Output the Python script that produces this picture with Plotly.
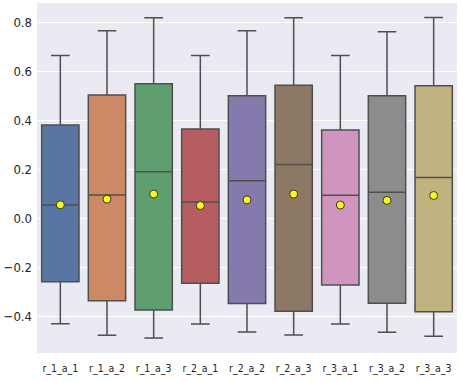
import plotly.graph_objects as go

# --- data ---
labels = ["r_1_a_1", "r_1_a_2", "r_1_a_3", "r_2_a_1", "r_2_a_2", "r_2_a_3",
          "r_3_a_1", "r_3_a_2", "r_3_a_3"]
upper = [0.665, 0.767, 0.820, 0.665, 0.767, 0.820, 0.665, 0.762, 0.821]
q3 = [0.381, 0.504, 0.550, 0.365, 0.501, 0.544, 0.361, 0.501, 0.542]
median = [0.054, 0.095, 0.190, 0.066, 0.153, 0.220, 0.094, 0.106, 0.167]
q1 = [-0.260, -0.337, -0.375, -0.266, -0.349, -0.380, -0.273, -0.348, -0.382]
lower = [-0.431, -0.478, -0.490, -0.432, -0.465, -0.477, -0.432, -0.466, -0.483]
means = [0.055, 0.078, 0.099, 0.052, 0.075, 0.099, 0.054, 0.073, 0.093]

# seaborn "deep", desaturated like boxplot does
colors = ["#5975a4", "#cc8963", "#5f9e6e", "#b55d60", "#857aab",
          "#8d7866", "#d095bf", "#8c8c8c", "#c1b37f"]

fig = go.Figure()

for i, lab in enumerate(labels):
    fig.add_trace(go.Box(
        x=[lab],
        q1=[q1[i]], median=[median[i]], q3=[q3[i]],
        lowerfence=[lower[i]], upperfence=[upper[i]],
        width=0.8,
        fillcolor=colors[i],
        line=dict(color="#4f4f4f", width=1.5),
        whiskerwidth=0.5,
        boxpoints=False,
        showlegend=False,
        hoverinfo="skip",
    ))

# mean markers
fig.add_trace(go.Scatter(
    x=labels, y=means, mode="markers",
    marker=dict(color="#ffff00", size=8, line=dict(color="#333333", width=1)),
    showlegend=False,
))

fig.update_layout(
    width=463, height=382,
    margin=dict(l=37, r=6, t=3, b=29),
    paper_bgcolor="white",
    plot_bgcolor="#EAEAF2",
    boxmode="overlay",
    font=dict(family="DejaVu Sans Condensed, Liberation Sans Narrow, DejaVu Sans",
              color="#262626"),
    xaxis=dict(
        type="category",
        range=[-0.5, 8.5],
        showgrid=False, zeroline=False,
        tickfont=dict(size=10.5),
        ticklabelstandoff=7,
        automargin=False,
    ),
    yaxis=dict(
        range=[-0.551, 0.880],
        tickvals=[-0.4, -0.2, 0.0, 0.2, 0.4, 0.6, 0.8],
        tickformat=".1f",
        gridcolor="white", gridwidth=1.2,
        zeroline=False,
        tickfont=dict(size=13),
        ticklabelstandoff=4,
        automargin=False,
    ),
)

# page body margin would push the figure off the window
fig.write_html("out.html", config={"displayModeBar": False},
               post_script="document.body.style.margin='0';")
